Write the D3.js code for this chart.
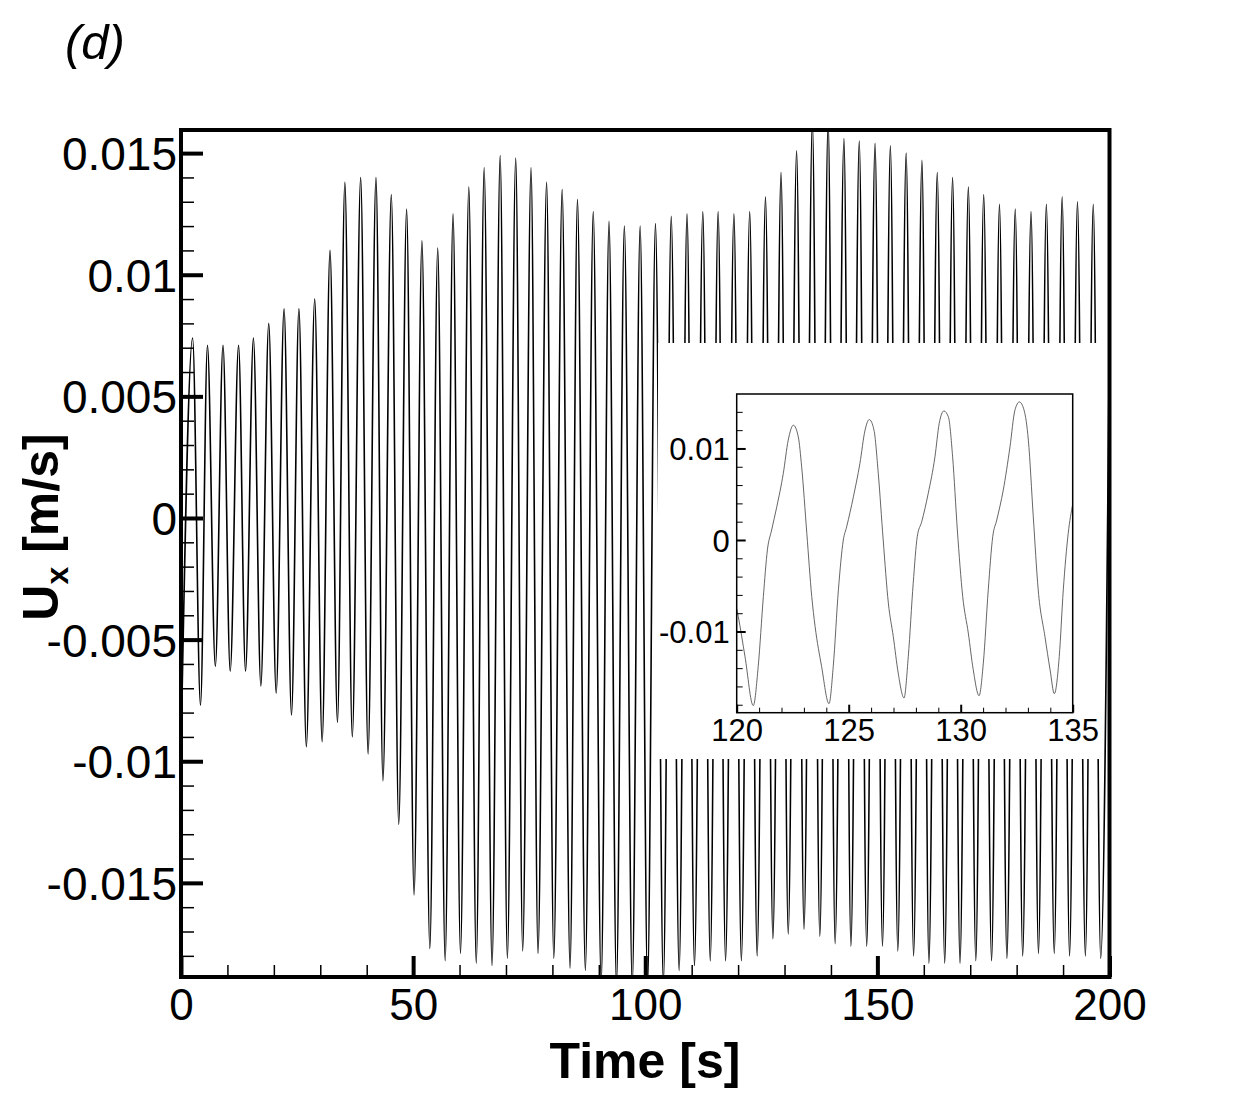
<!DOCTYPE html>
<html>
<head>
<meta charset="utf-8">
<script src="https://cdn.jsdelivr.net/npm/d3@7"></script>
<style>
  html, body { margin: 0; padding: 0; background: #fff; }
  svg { display: block; }
  text { font-family: "Liberation Sans", Arial, Helvetica, sans-serif; }
</style>
</head>
<body>
<svg id="chart" width="1242" height="1105"></svg>
<script>
// ---------------- data ----------------
// Main series: extrema (peaks/troughs) of U_x over time
const mainTime = [0, 2.5, 4.2, 5.7, 7.4, 9.05, 10.6, 12.4, 13.9, 15.6, 17.2, 18.9, 20.5, 22.2, 23.8, 25.4, 27.0, 28.8, 30.4,
  32.1, 33.7, 35.3, 36.9, 38.7, 40.3, 42.0, 43.5, 45.3, 46.9, 48.6, 50.2, 51.9, 53.6, 55.3, 56.9, 58.6, 60.2, 62.0, 63.6,
  65.3, 67.0, 68.75, 70.3, 72.1, 73.6, 75.4, 76.9, 78.75, 80.3, 82.1, 83.8, 85.4, 87.1, 88.8, 90.5, 92.2, 93.8, 95.5, 97.2,
  98.9, 100.5, 102.2, 103.9, 105.6, 107.3, 109.0, 110.6, 112.4, 114.0, 115.7, 117.3, 119.1, 120.7, 122.5, 124.1, 125.9, 127.5,
  129.25, 130.8, 132.6, 134.2, 136.0, 137.6, 139.4, 140.9, 142.8, 144.3, 146.1, 147.7, 149.5, 151.1, 152.8, 154.4, 156.2, 157.8,
  159.6, 161.1, 162.9, 164.5, 166.2, 167.8, 169.6, 171.2, 172.9, 174.6, 176.3, 177.9, 179.7, 181.3, 183.1, 184.7, 186.4, 188.1,
  189.8, 191.4, 193.1, 194.8, 196.5, 198.1, 200];
const mainUx = [-0.0096, 0.0074, -0.0077, 0.0071, -0.0061, 0.0071, -0.0063, 0.0071, -0.0063, 0.0074, -0.0069, 0.0080, -0.0072,
  0.0086, -0.0081, 0.0086, -0.0094, 0.0090, -0.0092, 0.0110, -0.0084, 0.0138, -0.0090, 0.0140, -0.0097, 0.0140, -0.0108,
  0.0133, -0.0126, 0.0127, -0.0155, 0.0114, -0.0177, 0.0111, -0.0182, 0.0125, -0.0179, 0.0136, -0.0183, 0.0144, -0.0184,
  0.0149, -0.0181, 0.0148, -0.0178, 0.0144, -0.0179, 0.0138, -0.0181, 0.0135, -0.0185, 0.0131, -0.0186, 0.0126, -0.0191,
  0.0122, -0.0192, 0.0120, -0.0192, 0.0120, -0.0192, 0.0121, -0.0191, 0.0124, -0.0186, 0.0125, -0.0184, 0.0126, -0.0182,
  0.0126, -0.0182, 0.0125, -0.0182, 0.0126, -0.0180, 0.0132, -0.0173, 0.0142, -0.0171, 0.0151, -0.0169, 0.0163, -0.0172,
  0.0163, -0.0175, 0.0156, -0.0176, 0.0155, -0.0176, 0.0154, -0.0176, 0.0153, -0.0178, 0.0150, -0.0180, 0.0147, -0.0183,
  0.0142, -0.0183, 0.0140, -0.0183, 0.0136, -0.0182, 0.0133, -0.0182, 0.0129, -0.0181, 0.0127, -0.0180, 0.0126, -0.0179,
  0.0129, -0.0179, 0.0132, -0.0180, 0.0130, -0.0180, 0.0129, -0.0181, 0.0080];

// Inset series: detailed waveform 120-135 s
const insetTime = [120.0, 120.07, 120.37, 120.74, 120.96, 121.19, 121.37, 121.56, 121.79, 122.08, 122.30, 122.53, 122.75, 122.90,
  123.13, 123.35, 123.50, 123.79, 124.12, 124.31, 124.54, 124.76, 124.91, 125.21, 125.50, 125.73, 125.92, 126.13, 126.32,
  126.54, 126.77, 126.99, 127.21, 127.47, 127.66, 127.88, 128.06, 128.26, 128.55, 128.85, 129.04, 129.25, 129.45, 129.64,
  129.85, 130.09, 130.34, 130.56, 130.82, 131.01, 131.23, 131.43, 131.61, 131.90, 132.20, 132.42, 132.62, 132.83, 133.02,
  133.24, 133.46, 133.76, 133.99, 134.18, 134.40, 134.58, 134.80, 135.0];
const insetUx = [-0.0075, -0.00836, -0.01273, -0.0181, -0.01382, -0.00618, -0.00109, 0.00109, 0.00363, 0.00727, 0.01091, 0.01254,
  0.01127, 0.00799, 0.00073, -0.00618, -0.00945, -0.01382, -0.01788, -0.01382, -0.00545, 0.0, 0.00145, 0.00472, 0.00836,
  0.0120, 0.01316, 0.0120, 0.00727, 0.0, -0.0069, -0.01054, -0.01454, -0.01726, -0.01273, -0.00472, 0.00036, 0.0020, 0.00509,
  0.00908, 0.01273, 0.0141, 0.01345, 0.00908, 0.00109, -0.00618, -0.01018, -0.01418, -0.01701, -0.01345, -0.00545, 0.00036,
  0.00218, 0.00545, 0.01017, 0.01418, 0.01508, 0.01418, 0.01091, 0.00254, -0.00545, -0.01054, -0.01418, -0.01679, -0.01273,
  -0.00545, 0.00073, 0.0039];

// Ticks and labels
const xTickValues = [0, 50, 100, 150, 200];
const xTickLabels = ["0", "50", "100", "150", "200"];
const yTickValues = [-0.015, -0.01, -0.005, 0, 0.005, 0.01, 0.015];
const yTickLabels = ["-0.015", "-0.01", "-0.005", "0", "0.005", "0.01", "0.015"];
const insetXTickValues = [120, 125, 130, 135];
const insetXTickLabels = ["120", "125", "130", "135"];
const insetYTickValues = [-0.01, 0, 0.01];
const insetYTickLabels = ["-0.01", "0", "0.01"];
const yDomain = [-0.01887, 0.01595];

// ---------------- drawing ----------------
const svg = d3.select("#chart");

const P = { left: 181, right: 1109.5, top: 130, bottom: 977 };
const x = d3.scaleLinear().domain([0, 200]).range([P.left, P.right]);
const y = d3.scaleLinear().domain(yDomain).range([P.bottom, P.top]);

svg.append("defs").append("clipPath").attr("id", "mainClip")
  .append("rect").attr("x", P.left).attr("y", P.top)
  .attr("width", P.right - P.left).attr("height", P.bottom - P.top);

// main data line
const mainData = mainTime.map((t, i) => [t, mainUx[i]]);
svg.append("path")
  .datum(mainData)
  .attr("clip-path", "url(#mainClip)")
  .attr("fill", "none")
  .attr("stroke", "#000")
  .attr("stroke-width", 1.6)
  .attr("d", d3.line().x(d => x(d[0])).y(d => y(d[1])).curve(d3.curveMonotoneX));

// inset white background
const I = { left: 736.7, right: 1072.7, top: 394, bottom: 712.7 };
svg.append("rect")
  .attr("x", 658).attr("y", 343).attr("width", 1104 - 658).attr("height", 759 - 343)
  .attr("fill", "#fff");

// main axes: ticks inward
function styleAxis(g, w) {
  g.select(".domain").remove();
  g.selectAll(".tick line").attr("stroke", "#000").attr("stroke-width", w);
  g.selectAll(".tick text").remove();
}
const yMinor = d3.range(-18, 16).map(v => v / 1000).filter(v => !yTickValues.some(t => Math.abs(t - v) < 1e-9));
const xMinor = d3.range(10, 200, 10).filter(v => v % 50 !== 0);

svg.append("g").attr("transform", `translate(${P.left},0)`)
  .call(d3.axisRight(y).tickValues(yMinor).tickSize(13).tickFormat(""))
  .call(g => styleAxis(g, 1.5));
svg.append("g").attr("transform", `translate(${P.left},0)`)
  .call(d3.axisRight(y).tickValues(yTickValues).tickSize(22).tickFormat(""))
  .call(g => styleAxis(g, 4));
svg.append("g").attr("transform", `translate(0,${P.bottom})`)
  .call(d3.axisTop(x).tickValues(xMinor).tickSize(12).tickFormat(""))
  .call(g => styleAxis(g, 1.5));
svg.append("g").attr("transform", `translate(0,${P.bottom})`)
  .call(d3.axisTop(x).tickValues(xTickValues).tickSize(21).tickFormat(""))
  .call(g => styleAxis(g, 4));

// tick labels
const yLab = svg.append("g").attr("transform", `translate(${P.left - 4},0)`)
  .call(d3.axisLeft(y).tickValues(yTickValues).tickSize(0).tickPadding(0)
    .tickFormat((d, i) => yTickLabels[i]));
yLab.select(".domain").remove();
yLab.selectAll("text").attr("font-size", 46).attr("fill", "#000")
  .attr("font-family", "'Liberation Sans', Arial, sans-serif").attr("dy", "0.36em");

const xLab = svg.append("g").attr("transform", `translate(0,${P.bottom})`)
  .call(d3.axisBottom(x).tickValues(xTickValues).tickSize(0).tickPadding(0)
    .tickFormat((d, i) => xTickLabels[i]));
xLab.select(".domain").remove();
xLab.selectAll("text").attr("font-size", 44).attr("fill", "#000")
  .attr("font-family", "'Liberation Sans', Arial, sans-serif").attr("dy", null).attr("y", 43);

// frame
svg.append("rect")
  .attr("x", P.left).attr("y", P.top)
  .attr("width", P.right - P.left).attr("height", P.bottom - P.top)
  .attr("fill", "none").attr("stroke", "#000").attr("stroke-width", 4);

// axis titles
svg.append("text")
  .attr("x", 645).attr("y", 1078)
  .attr("text-anchor", "middle").attr("font-size", 50).attr("font-weight", "bold")
  .text("Time [s]");

const yt = svg.append("text")
  .attr("transform", "translate(58,527) rotate(-90)")
  .attr("text-anchor", "middle").attr("font-size", 50).attr("font-weight", "bold");
yt.append("tspan").text("U");
yt.append("tspan").attr("font-size", 32).attr("dy", 10).text("x");
yt.append("tspan").attr("dy", -10).text(" [m/s]");

// panel label
svg.append("text")
  .attr("x", 65).attr("y", 59)
  .attr("font-family", "'Liberation Serif', 'Times New Roman', serif")
  .attr("font-style", "italic").attr("font-size", 49)
  .text("(d)");

// ---------------- inset ----------------
const xi = d3.scaleLinear().domain([120, 135]).range([I.left, I.right]);
const yi = d3.scaleLinear().domain(yDomain).range([I.bottom, I.top]);

svg.append("defs").append("clipPath").attr("id", "insetClip")
  .append("rect").attr("x", I.left).attr("y", I.top)
  .attr("width", I.right - I.left).attr("height", I.bottom - I.top);

const insetData = insetTime.map((t, i) => [t, insetUx[i]]);
svg.append("path")
  .datum(insetData)
  .attr("clip-path", "url(#insetClip)")
  .attr("fill", "none")
  .attr("stroke", "#555")
  .attr("stroke-width", 0.9)
  .attr("d", d3.line().x(d => xi(d[0])).y(d => yi(d[1])).curve(d3.curveMonotoneX));

const iyMinor = d3.range(-18, 16, 2).map(v => v / 1000).filter(v => !insetYTickValues.some(t => Math.abs(t - v) < 1e-9));
const ixMinor = d3.range(121, 135).filter(v => v % 5 !== 0);

svg.append("g").attr("transform", `translate(${I.left},0)`)
  .call(d3.axisRight(yi).tickValues(iyMinor).tickSize(6).tickFormat(""))
  .call(g => styleAxis(g, 1));
svg.append("g").attr("transform", `translate(${I.left},0)`)
  .call(d3.axisRight(yi).tickValues(insetYTickValues).tickSize(9).tickFormat(""))
  .call(g => styleAxis(g, 2));
svg.append("g").attr("transform", `translate(0,${I.bottom})`)
  .call(d3.axisTop(xi).tickValues(ixMinor).tickSize(5).tickFormat(""))
  .call(g => styleAxis(g, 1));
svg.append("g").attr("transform", `translate(0,${I.bottom})`)
  .call(d3.axisTop(xi).tickValues(insetXTickValues).tickSize(8).tickFormat(""))
  .call(g => styleAxis(g, 2));

const iyLab = svg.append("g").attr("transform", `translate(${I.left - 7},0)`)
  .call(d3.axisLeft(yi).tickValues(insetYTickValues).tickSize(0).tickPadding(0)
    .tickFormat((d, i) => insetYTickLabels[i]));
iyLab.select(".domain").remove();
iyLab.selectAll("text").attr("font-size", 31).attr("fill", "#000")
  .attr("font-family", "'Liberation Sans', Arial, sans-serif").attr("dy", "0.36em");

const ixLab = svg.append("g").attr("transform", `translate(0,${I.bottom})`)
  .call(d3.axisBottom(xi).tickValues(insetXTickValues).tickSize(0).tickPadding(0)
    .tickFormat((d, i) => insetXTickLabels[i]));
ixLab.select(".domain").remove();
ixLab.selectAll("text").attr("font-size", 31).attr("fill", "#000")
  .attr("font-family", "'Liberation Sans', Arial, sans-serif").attr("dy", null).attr("y", 28);

svg.append("rect")
  .attr("x", I.left).attr("y", I.top)
  .attr("width", I.right - I.left).attr("height", I.bottom - I.top)
  .attr("fill", "none").attr("stroke", "#000").attr("stroke-width", 1.5);
</script>
</body>
</html>
